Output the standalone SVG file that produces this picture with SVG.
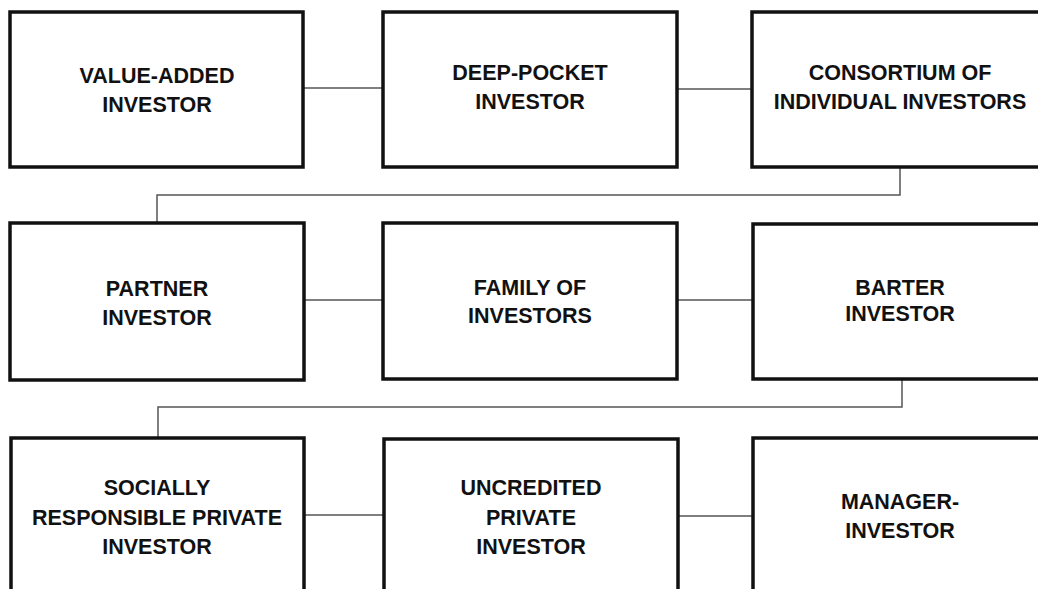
<svg xmlns="http://www.w3.org/2000/svg" width="1038" height="589" viewBox="0 0 1038 589">
<style>
.box{fill:#fff;stroke:#111;stroke-width:3.5}
.lbl{font-family:"Liberation Sans",Arial,sans-serif;font-weight:bold;font-size:21.5px;fill:#111;text-anchor:middle}
.con{fill:none;stroke:#555;stroke-width:1.5}
</style>
<rect width="1038" height="589" fill="#fff"/>
<g id="connectors">
<line class="con" x1="303" y1="88" x2="383" y2="88"/>
<line class="con" x1="677" y1="89" x2="752" y2="89"/>
<polyline class="con" points="900,167 900,195 157,195 157,223"/>
<line class="con" x1="304" y1="300" x2="383" y2="300"/>
<line class="con" x1="677" y1="300" x2="753" y2="300"/>
<polyline class="con" points="902,379 902,407 158,407 158,438"/>
<line class="con" x1="304" y1="515" x2="384" y2="515"/>
<line class="con" x1="678" y1="516" x2="753" y2="516"/>
</g>
<g id="value-added">
<rect class="box" x="10" y="12" width="293" height="155"/>
<text class="lbl" x="157" y="83">VALUE-ADDED</text>
<text class="lbl" x="157" y="112">INVESTOR</text>
</g>
<g id="deep-pocket">
<rect class="box" x="383" y="12" width="294" height="155"/>
<text class="lbl" x="530" y="80">DEEP-POCKET</text>
<text class="lbl" x="530" y="109">INVESTOR</text>
</g>
<g id="consortium">
<rect class="box" x="752" y="12" width="296" height="155"/>
<text class="lbl" x="900" y="80">CONSORTIUM OF</text>
<text class="lbl" x="900" y="109">INDIVIDUAL INVESTORS</text>
</g>
<g id="partner">
<rect class="box" x="10" y="223" width="294" height="157"/>
<text class="lbl" x="157" y="296">PARTNER</text>
<text class="lbl" x="157" y="325">INVESTOR</text>
</g>
<g id="family">
<rect class="box" x="383" y="223" width="294" height="156"/>
<text class="lbl" x="530" y="295">FAMILY OF</text>
<text class="lbl" x="530" y="323">INVESTORS</text>
</g>
<g id="barter">
<rect class="box" x="753" y="224" width="296" height="155"/>
<text class="lbl" x="900" y="295">BARTER</text>
<text class="lbl" x="900" y="321">INVESTOR</text>
</g>
<g id="socially">
<rect class="box" x="11" y="438" width="293" height="160"/>
<text class="lbl" x="157" y="495">SOCIALLY</text>
<text class="lbl" x="157" y="525">RESPONSIBLE PRIVATE</text>
<text class="lbl" x="157" y="554">INVESTOR</text>
</g>
<g id="uncredited">
<rect class="box" x="384" y="439" width="294" height="160"/>
<text class="lbl" x="531" y="495">UNCREDITED</text>
<text class="lbl" x="531" y="525">PRIVATE</text>
<text class="lbl" x="531" y="554">INVESTOR</text>
</g>
<g id="manager">
<rect class="box" x="753" y="438" width="296" height="160"/>
<text class="lbl" x="900" y="509">MANAGER-</text>
<text class="lbl" x="900" y="538">INVESTOR</text>
</g>
</svg>
